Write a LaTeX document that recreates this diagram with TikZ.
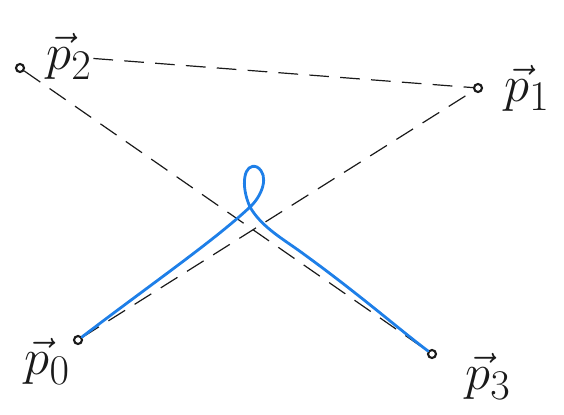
\documentclass[tikz,border=0pt]{standalone}
\usepackage{xcolor}
\definecolor{PenBlue}{HTML}{1E7FE8}
\definecolor{Ink}{HTML}{1A1A1A}
\usetikzlibrary{positioning}
\newcommand{\pvec}[1]{\scalebox{1.45}{$\vec{p}_{#1}$}}

\begin{document}
\begin{tikzpicture}[x=0.025cm, y=-0.025cm,
  pt/.style={circle, draw=Ink, line width=1.5pt, minimum size=0.2cm, inner sep=0pt},
  lbl/.style={font=\Huge, text=Ink, inner sep=1pt},
  dashline/.style={draw=Ink, line width=0.85pt, dash pattern=on 14pt off 8pt},
  bluecurve/.style={draw=PenBlue, line width=2pt, line cap=round, line join=round}
]
\useasboundingbox (0,0) rectangle (564,414);

%% ---- control points ----
\node[pt] (pzero)  at ( 78, 340) {};
\node[pt] (pone)   at (478,  88) {};
\node[pt] (ptwo)   at ( 20,  68) {};
\node[pt] (pthree) at (432, 354) {};

%% ---- labels ----
\node[lbl, above right=-12pt and 15pt of ptwo]  (ltwo)   {\pvec{2}};
\node[lbl, above right=-20pt and 15pt of pone]  (lone)   {\pvec{1}};
\node[lbl, below left=-5pt and 2pt of pzero]    (lzero)  {\pvec{0}};
\node[lbl, below right=-4pt and 20pt of pthree] (lthree) {\pvec{3}};

%% ---- control polygon ----
\draw[dashline] (ltwo) -- (pone);
\draw[dashline] (ptwo) -- (pthree);
\draw[dashline] (pzero) -- (pone);

%% ---- curve with loop ----
\draw[bluecurve] (pzero) .. controls (150,285) and (215,240) .. (250,207)
  .. controls (262,196) and (270,175) .. (257,167)
  .. controls (244,162) and (240,185) .. (250,207)
  .. controls (262,228) and (285,240) .. (305,255)
  .. controls (360,295) and (400,330) .. (pthree);

\end{tikzpicture}
\end{document}
